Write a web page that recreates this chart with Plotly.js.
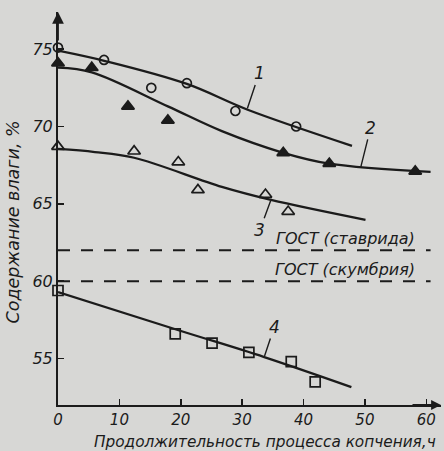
<!DOCTYPE html>
<html>
<head>
<meta charset="utf-8">
<script src="https://cdn.plot.ly/plotly-3.0.1.min.js"></script>
<style>html,body{margin:0;padding:0;background:#d7d7d5;}#chart{width:444px;height:451px;}</style>
</head>
<body>
<div id="chart"></div>
<script>
// Series 1 (open circles)
const hours1 = [0, 7.5, 15.2, 21.0, 28.9, 38.8];
const moist1 = [75.1, 74.3, 72.5, 72.8, 71.0, 70.0];
const fitX1 = [0, 8, 21.0, 30.8, 47.9];
const fitY1 = [74.9, 74.2, 72.75, 71.1, 68.75];
// Series 2 (filled triangles)
const hours2 = [0, 5.5, 11.4, 17.9, 36.7, 44.2, 58.2];
const moist2 = [74.1, 73.8, 71.3, 70.4, 68.3, 67.6, 67.1];
const fitX2 = [0, 5.5, 17.9, 26.7, 36.7, 44.2, 60.7];
const fitY2 = [73.8, 73.5, 71.3, 69.7, 68.3, 67.6, 67.07];
// Series 3 (open triangles)
const hours3 = [0, 12.4, 19.6, 22.8, 33.8, 37.5];
const moist3 = [68.7, 68.4, 67.7, 65.9, 65.6, 64.5];
const fitX3 = [0, 6, 12.4, 26.7, 34.7, 50.1];
const fitY3 = [68.55, 68.35, 67.98, 66.1, 65.26, 63.97];
// Series 4 (open squares)
const hours4 = [0, 19.1, 25.1, 31.1, 38.0, 41.9];
const moist4 = [59.4, 56.6, 56.0, 55.4, 54.8, 53.5];
const fitX4 = [0, 19.9, 33.6, 47.8];
const fitY4 = [59.3, 56.8, 55.1, 53.16];
// GOST limits
const gostNames = ['ГОСТ (ставрида)', 'ГОСТ (скумбрия)'];
const gostLevels = [62.0, 60.0];
const gostSpan = [0, 60.7];
// Axis ticks
const xTicks = [0, 10, 20, 30, 40, 50, 60];
const yTicks = [55, 60, 65, 70, 75];
const curveLabels = ['1', '2', '3', '4'];

const ink = '#1b1b1b';
const fnt = 'DejaVu Sans, sans-serif';

function fit(x, y) {
  return {x: x, y: y, mode: 'lines', line: {color: ink, width: 2.3, shape: 'spline', smoothing: 1}, hoverinfo: 'skip'};
}
function pts(x, y, sym, sz) {
  return {x: x, y: y, mode: 'markers', cliponaxis: false,
    marker: {symbol: sym, size: sz, color: ink, line: {color: ink, width: 1.7}}};
}

const traces = [
  fit(fitX1, fitY1), fit(fitX2, fitY2), fit(fitX3, fitY3), fit(fitX4, fitY4)
];
gostLevels.forEach(function (lv) {
  traces.push({x: gostSpan, y: [lv, lv], mode: 'lines', line: {color: ink, width: 2, dash: '12px,11px'}, hoverinfo: 'skip'});
});
traces.push(
  pts(hours1, moist1, 'circle-open', 9),
  pts(hours2, moist2, 'triangle-up', 11),
  pts(hours3, moist3, 'triangle-up-open', 11),
  pts(hours4, moist4, 'square-open', 10)
);

const annotations = [];
gostNames.forEach(function (nm, i) {
  annotations.push({x: 46.8, y: gostLevels[i], xref: 'x', yref: 'y', yanchor: 'bottom', yshift: 0, text: nm, showarrow: false,
    font: {family: fnt, size: 16, color: ink, style: 'italic'}});
});
// curve labels with leader lines
const lblAt = [[fitX1[3], fitY1[3], 12, -36], [49.3, 67.33, 10, -40], [fitX3[4], fitY3[4], -11, 30], [fitX4[2], fitY4[2], 10, -30]];
curveLabels.forEach(function (t, i) {
  const a = lblAt[i];
  annotations.push({x: a[0], y: a[1], xref: 'x', yref: 'y', ax: a[2], ay: a[3], text: t, showarrow: true, arrowhead: 0,
    arrowwidth: 1.4, arrowcolor: ink, standoff: 1, font: {family: fnt, size: 17, color: ink, style: 'italic'}});
});
// axis arrows
annotations.push({x: 0, y: 1, xref: 'paper', yref: 'paper', ax: 0, ay: 30, text: '', showarrow: true, arrowhead: 2, arrowsize: 1.3, arrowwidth: 1.8, arrowcolor: ink});
annotations.push({x: 1, y: 0, xref: 'paper', yref: 'paper', ax: -30, ay: 0, text: '', showarrow: true, arrowhead: 2, arrowsize: 1.1, arrowwidth: 1.8, arrowcolor: ink});
// axis titles
annotations.push({x: 0.54, y: -0.094, xref: 'paper', yref: 'paper', xanchor: 'center', yanchor: 'middle', text: 'Продолжительность процесса копчения,ч', showarrow: false,
  font: {family: fnt, size: 15.3, color: ink, style: 'italic'}});
annotations.push({x: -0.115, y: 0.467, xref: 'paper', yref: 'paper', xanchor: 'center', yanchor: 'middle', textangle: -90, text: 'Содержание влаги, %', showarrow: false,
  font: {family: fnt, size: 17.5, color: ink, style: 'italic'}});

const layout = {
  width: 444, height: 451,
  margin: {l: 58, r: 3, t: 12, b: 46},
  paper_bgcolor: '#d7d7d5', plot_bgcolor: '#d7d7d5',
  showlegend: false,
  font: {family: fnt, color: ink},
  xaxis: {range: [0, 62.4], tickvals: xTicks, ticks: 'inside', ticklen: 6, tickwidth: 1.5, tickcolor: ink,
    showline: true, linecolor: ink, linewidth: 2, showgrid: false, zeroline: false,
    tickfont: {family: fnt, size: 15, color: ink, style: 'italic'}},
  yaxis: {range: [52.0, 77.4], tickvals: yTicks, ticks: 'inside', ticklen: 6, tickwidth: 1.5, tickcolor: ink,
    showline: true, linecolor: ink, linewidth: 2, showgrid: false, zeroline: false,
    tickfont: {family: fnt, size: 16, color: ink, style: 'italic'}},
  annotations: annotations
};
Plotly.newPlot('chart', traces, layout, {displayModeBar: false, staticPlot: true});
</script>
</body>
</html>
